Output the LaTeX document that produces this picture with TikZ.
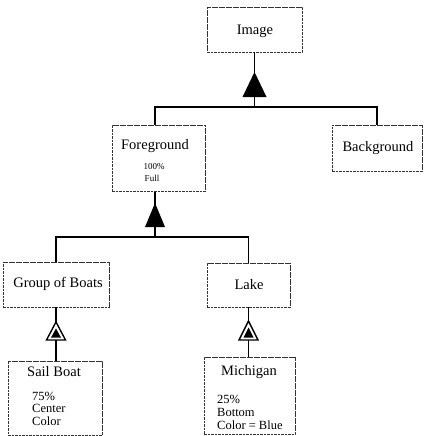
\documentclass[tikz,border=0pt]{standalone}
\usepackage{fontspec}
\setmainfont{Liberation Serif}
\begin{document}
\begin{tikzpicture}[x=1pt,y=-1pt,
  box/.style={draw=black!80, line width=0.7pt, dash pattern=on 2.6pt off 0.9pt,
              inner sep=0pt, fill=white},
  lbl/.style={inner sep=0pt, font=\fontsize{14.5}{16}\selectfont},
  attr/.style={inner sep=0pt, anchor=west, font=\fontsize{12.5}{13}\selectfont},
  tiny/.style={inner sep=0pt, font=\fontsize{9}{10}\selectfont},
  conn/.style={line width=1.5pt, black},
  agg/.style={fill=black},
  aggopen/.style={draw=black, line width=1.4pt, fill=white, line join=miter}]
\useasboundingbox (0,0) rectangle (426,436);

% boxes
\node[box, minimum width=95pt, minimum height=45pt] (img)  at (254.5,29.5) {};
\node[box, minimum width=93pt, minimum height=66pt] (fg)   at (158.5,158.5) {};
\node[box, minimum width=90pt, minimum height=46pt] (bg)   at (377,148) {};
\node[box, minimum width=106pt, minimum height=45pt] (gb)  at (56,284.5) {};
\node[box, minimum width=83pt, minimum height=44pt] (lake) at (248.5,285) {};
\node[box, minimum width=94pt, minimum height=74pt] (sb)   at (55,398) {};
\node[box, minimum width=91pt, minimum height=77pt] (mi)   at (249.5,396) {};

% labels
\node[lbl] (img-t)  at (255,31)  {Image};
\node[lbl] (fg-t)   at (155,146) {Foreground};
\node[tiny] (fg-a1) at (154,167) {100\%};
\node[tiny] (fg-a2) at (152,178) {Full};
\node[lbl] (bg-t)   at (378,148) {Background};
\node[lbl] (gb-t)   at (58,284)  {Group of Boats};
\node[lbl] (lake-t) at (249,285) {Lake};
\node[lbl] (sb-t)   at (54,372)  {Sail Boat};
\node[attr] (sb-a1) at (32,396)  {75\%};
\node[attr] (sb-a2) at (32,408)  {Center};
\node[attr] (sb-a3) at (32,421)  {Color};
\node[lbl] (mi-t)   at (249,372) {Michigan};
\node[attr] (mi-a1) at (217,399) {25\%};
\node[attr] (mi-a2) at (217,412) {Bottom};
\node[attr] (mi-a3) at (217,425) {Color = Blue};

% connectors
\coordinate (busA) at (254.5,107);
\coordinate (busB) at (155,237);
\draw[conn] (img.south) -- (busA);
\draw[conn] (fg.north -| fg-t) |- (busA) -| (bg.north);
\draw[conn] (fg.south -| fg-t) -- (busB);
\draw[conn] (gb.north) |- (busB) -| (lake.north);
\draw[conn] (gb.south) -- (gb.south |- sb.north);
\draw[conn] (lake.south) -- (lake.south |- mi.north);

% aggregation markers
\fill[agg] (254.5,72) -- (266.5,97) -- (242.5,97) -- cycle;
\fill[agg] (155,203) -- (165,227) -- (145,227) -- cycle;
\draw[aggopen] (56,322) -- (65.5,340) -- (46.5,340) -- cycle;
\fill[agg] (56,328.5) -- (61,337.5) -- (51,337.5) -- cycle;
\draw[aggopen] (248.5,321) -- (258,340) -- (239,340) -- cycle;
\fill[agg] (248.5,327.5) -- (253.5,337.5) -- (243.5,337.5) -- cycle;
\end{tikzpicture}
\end{document}
